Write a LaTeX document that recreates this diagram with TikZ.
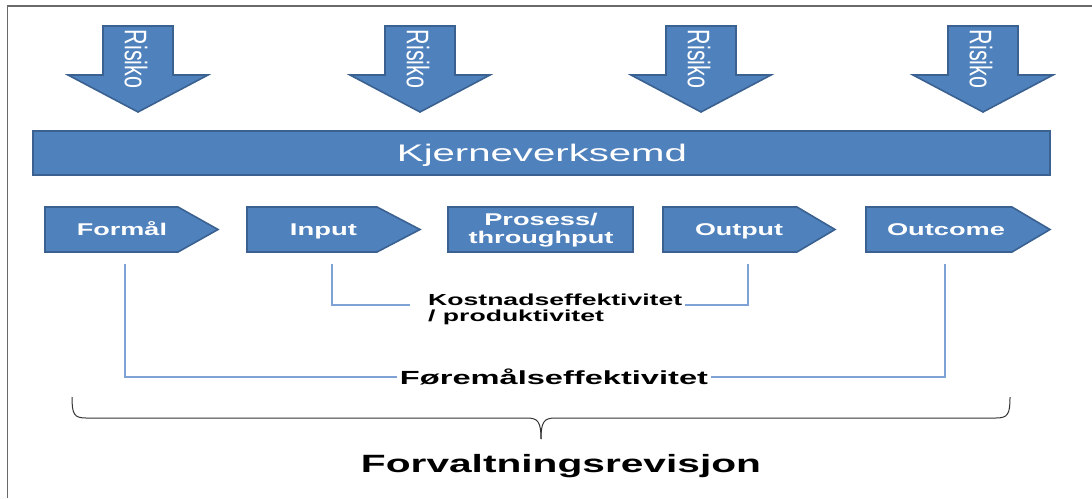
\documentclass[tikz,border=0pt]{standalone}
\usepackage{fontspec}
\setmainfont{Liberation Sans}
\usepackage{graphicx}
\definecolor{boxfill}{HTML}{4F81BD}
\definecolor{boxline}{HTML}{3A6190}
\definecolor{connc}{HTML}{7FA2D6}
\definecolor{framec}{HTML}{6A6A6A}
\begin{document}
\begin{tikzpicture}[x=1pt,y=-1pt,
  blueshape/.style={fill=boxfill, draw=boxline, line width=1.6pt, line join=miter},
  connline/.style={draw=connc, line width=1.5pt},
  wlbl/.style={text=white, inner sep=0pt, anchor=base},
  blbl/.style={text=black, inner sep=0pt, anchor=base},
  risk/.style={text=white, inner sep=0pt, rotate=-90}]
\useasboundingbox (0,0) rectangle (1092,498);
% frame
\draw[framec, line width=1.5pt] (7.5,498) -- (7.5,6) -- (1092,6);
% risk arrows
\foreach \c/\n in {138/r1, 420/r2, 701/r3, 983/r4}{
  \draw[blueshape] (\c-35,26) -- (\c+35,26) -- (\c+35,75) -- (\c+70,75) -- (\c,112) -- (\c-70,75) -- (\c-35,75) -- cycle;
  \node[risk] (\n) at (\c-2,59) {\scalebox{1}[1.45]{\fontsize{21.5}{22}\selectfont Risiko}};
}
% core bar
\draw[blueshape] (33,131) rectangle (1050,175);
\node[wlbl] (kjerne) at (542,161) {\resizebox{290pt}{\height}{\fontsize{24}{26}\selectfont Kjerneverksemd}};
% process chain
\draw[blueshape] (45,207) -- (178,207) -- (218,229.5) -- (178,252) -- (45,252) -- cycle;
\draw[blueshape] (247,207) -- (377,207) -- (420,229.5) -- (377,252) -- (247,252) -- cycle;
\draw[blueshape] (448,207) rectangle (633,252);
\draw[blueshape] (663,207) -- (797,207) -- (835,229.5) -- (797,252) -- (663,252) -- cycle;
\draw[blueshape] (866,207) -- (1012,207) -- (1050,229.5) -- (1012,252) -- (866,252) -- cycle;
\node[wlbl] (formal) at (122,235.5) {\resizebox{90pt}{\height}{\bfseries\fontsize{17}{18}\selectfont Formål}};
\node[wlbl] (input) at (323.5,235.5) {\resizebox{67pt}{\height}{\bfseries\fontsize{17}{18}\selectfont Input}};
\node[wlbl] (prosess) at (541,225) {\resizebox{145pt}{\height}{\bfseries\fontsize{17}{18}\selectfont\begin{tabular}[t]{@{}c@{}}Prosess/\\throughput\end{tabular}}};
\node[wlbl] (output) at (739,235.5) {\resizebox{88pt}{\height}{\bfseries\fontsize{17}{18}\selectfont Output}};
\node[wlbl] (outcome) at (946,235.5) {\resizebox{118pt}{\height}{\bfseries\fontsize{17}{18}\selectfont Outcome}};
% connector anchors
\coordinate (formal-b) at (125,264);
\coordinate (input-b) at (332,264);
\coordinate (output-b) at (748,264);
\coordinate (outcome-b) at (945,264);
\coordinate (kost-l) at (410,305);
\coordinate (kost-r) at (685,305);
% Kostnadseffektivitet
\node[blbl, anchor=base west] (kost) at (428,305) {\resizebox{254pt}{\height}{\bfseries\fontsize{16}{16.5}\selectfont\begin{tabular}[t]{@{}l@{}}Kostnadseffektivitet\\/ produktivitet\end{tabular}}};
\draw[connline] (input-b) |- (kost-l);
\draw[connline] (output-b) |- (kost-r);
% Føremålseffektivitet
\node[text=black, inner xsep=3pt, inner ysep=0pt] (foremal) at (554,377) {\resizebox{308pt}{\height}{\bfseries\fontsize{19}{20}\selectfont Føremålseffektivitet}};
\draw[connline] (formal-b) |- (foremal.west);
\draw[connline] (outcome-b) |- (foremal.east);
% brace
\coordinate (brace-tip) at (541,439);
\draw[black!80, line width=1pt] (72,397) .. controls (72,414) and (74,418) .. (86,418) -- (527,418) .. controls (538,418) and (541,422) .. (brace-tip);
\draw[black!80, line width=1pt] (1010,397) .. controls (1010,414) and (1008,418) .. (996,418) -- (555,418) .. controls (544,418) and (541,422) .. (brace-tip);
\node[blbl] (forv) at (561,472) {\resizebox{400pt}{\height}{\bfseries\fontsize{25}{27}\selectfont Forvaltningsrevisjon}};
\end{tikzpicture}
\end{document}
